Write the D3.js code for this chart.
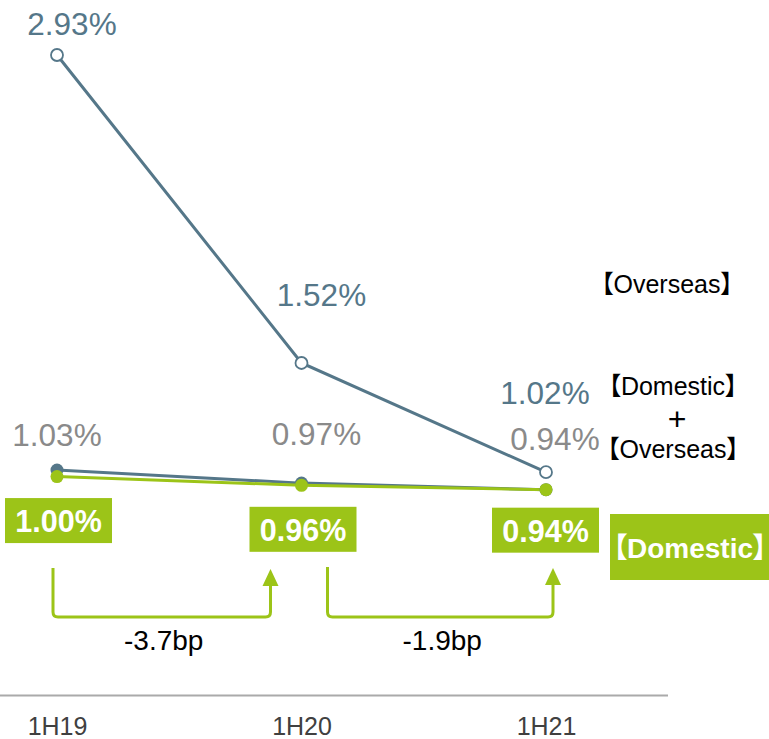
<!DOCTYPE html>
<html><head><meta charset="utf-8">
<script src="https://cdn.jsdelivr.net/npm/d3@7"></script>
<style>
html,body{margin:0;padding:0;background:#fff;}
svg{display:block;font-family:"Liberation Sans",Arial,"Noto Sans CJK JP",sans-serif;}
.br{font-family:"Noto Sans CJK JP",sans-serif;font-feature-settings:"palt";}
</style></head>
<body>
<svg id="c" width="769" height="739"></svg>
<script>
const categories = ["1H19","1H20","1H21"];
const overseas = [2.93, 1.52, 1.02];
const total = [1.03, 0.97, 0.94];
const domestic = [1.00, 0.96, 0.94];
const changes = ["-3.7bp", "-1.9bp"];

const slate = "#557789", green = "#9cc418", grey = "#8a8a8a";
const svg = d3.select("#c");
const x = d3.scalePoint().domain(categories).range([57, 546]);
const y = d3.scaleLinear().domain([0, 2.93]).range([695, 55]);

// axis
const ax = svg.append("g").attr("transform","translate(0,695)")
  .call(d3.axisBottom(x).tickSize(0).tickPadding(22));
ax.select(".domain").attr("d","M0,0.5H668").attr("stroke","#aaa").attr("stroke-width",2);
ax.selectAll("text").attr("font-size",25).attr("fill","#404040")
  .attr("font-family","Liberation Sans, Arial, sans-serif");

const line = d3.line().x((d,i)=>x(categories[i])).y(d=>y(d));
svg.append("path").datum(overseas).attr("d",line).attr("fill","none").attr("stroke",slate).attr("stroke-width",3);
svg.append("path").datum(total).attr("d",line).attr("fill","none").attr("stroke",slate).attr("stroke-width",3);
svg.append("path").datum(domestic).attr("d",line).attr("fill","none").attr("stroke",green).attr("stroke-width",3);

svg.selectAll(".mo").data(overseas).join("circle").attr("cx",(d,i)=>x(categories[i])).attr("cy",d=>y(d))
  .attr("r",6).attr("fill","#fff").attr("stroke",slate).attr("stroke-width",1.8);
svg.selectAll(".mt").data(total).join("circle").attr("cx",(d,i)=>x(categories[i])).attr("cy",d=>y(d))
  .attr("r",6.5).attr("fill",slate);
svg.selectAll(".md").data(domestic).join("circle").attr("cx",(d,i)=>x(categories[i])).attr("cy",d=>y(d))
  .attr("r",6.5).attr("fill",green);

const fmt = v => v.toFixed(2) + "%";
// overseas labels
const oOff = [[15,-20],[20,-57],[-1,-68]];
svg.selectAll(".lo").data(overseas).join("text")
  .attr("x",(d,i)=>x(categories[i])+oOff[i][0]).attr("y",(d,i)=>y(d)+oOff[i][1])
  .attr("text-anchor","middle").attr("font-size",31.5).attr("fill",slate).text(fmt);
// total labels
const tOff = [[0,-24],[15,-38],[9,-40]];
svg.selectAll(".lt").data(total).join("text")
  .attr("x",(d,i)=>x(categories[i])+tOff[i][0]).attr("y",(d,i)=>y(d)+tOff[i][1])
  .attr("text-anchor","middle").attr("font-size",31.5).attr("fill",grey).text(fmt);
// domestic boxes
const dOff = [[1.5,44],[1.5,44],[-0.5,40.5]];
const bw = 107, bh = 45;
const gb = svg.selectAll(".bx").data(domestic).join("g")
  .attr("transform",(d,i)=>`translate(${x(categories[i])+dOff[i][0]},${y(d)+dOff[i][1]})`);
gb.append("rect").attr("x",-bw/2).attr("y",-bh/2).attr("width",bw).attr("height",bh).attr("fill",green);
gb.append("text").attr("y",11.5).attr("text-anchor","middle").attr("font-size",30.5).attr("font-weight","bold")
  .attr("fill","#fff").text(fmt);

// legend labels
function bracketText(g, xx, yy, label, size, fill, weight){
  const t = g.append("text").attr("x",xx).attr("y",yy).attr("text-anchor","middle")
    .attr("font-size",size).attr("fill",fill).attr("font-weight",weight||"normal");
  t.append("tspan").attr("class","br").text("【");
  t.append("tspan").text(label);
  t.append("tspan").attr("class","br").text("】");
  return t;
}
bracketText(svg, 667, 293, "Overseas", 25, "#000");
bracketText(svg, 673, 395, "Domestic", 25, "#000");
svg.append("text").attr("x",677).attr("y",430).attr("text-anchor","middle").attr("font-size",32).attr("fill","#000").text("+");
bracketText(svg, 673, 458, "Overseas", 25, "#000");
svg.append("rect").attr("x",610).attr("y",514).attr("width",170).attr("height",66).attr("fill",green);
bracketText(svg, 690, 558, "Domestic", 28, "#fff", "bold");

// change arrows
const arrows = [
  {x0: x(categories[0]) - 4, x1: x(categories[1]) - 31, top: 568, tip: 569},
  {x0: x(categories[1]) + 26, x1: x(categories[2]) + 7, top: 567, tip: 568}
];
const bottom = 617, r = 5;
arrows.forEach((a,i)=>{
  svg.append("path")
    .attr("d",`M${a.x0},${a.top}V${bottom-r}Q${a.x0},${bottom} ${a.x0+r},${bottom}H${a.x1-r}Q${a.x1},${bottom} ${a.x1},${bottom-r}V${a.tip+14}`)
    .attr("fill","none").attr("stroke",green).attr("stroke-width",3);
  svg.append("path")
    .attr("d",`M${a.x1},${a.tip}L${a.x1+8},${a.tip+17}L${a.x1-8},${a.tip+17}Z`).attr("fill",green);
  svg.append("text").attr("x",(a.x0+a.x1)/2 + 2).attr("y",650).attr("text-anchor","middle")
    .attr("font-size",28).attr("fill","#000").text(changes[i]);
});
</script>
</body></html>
